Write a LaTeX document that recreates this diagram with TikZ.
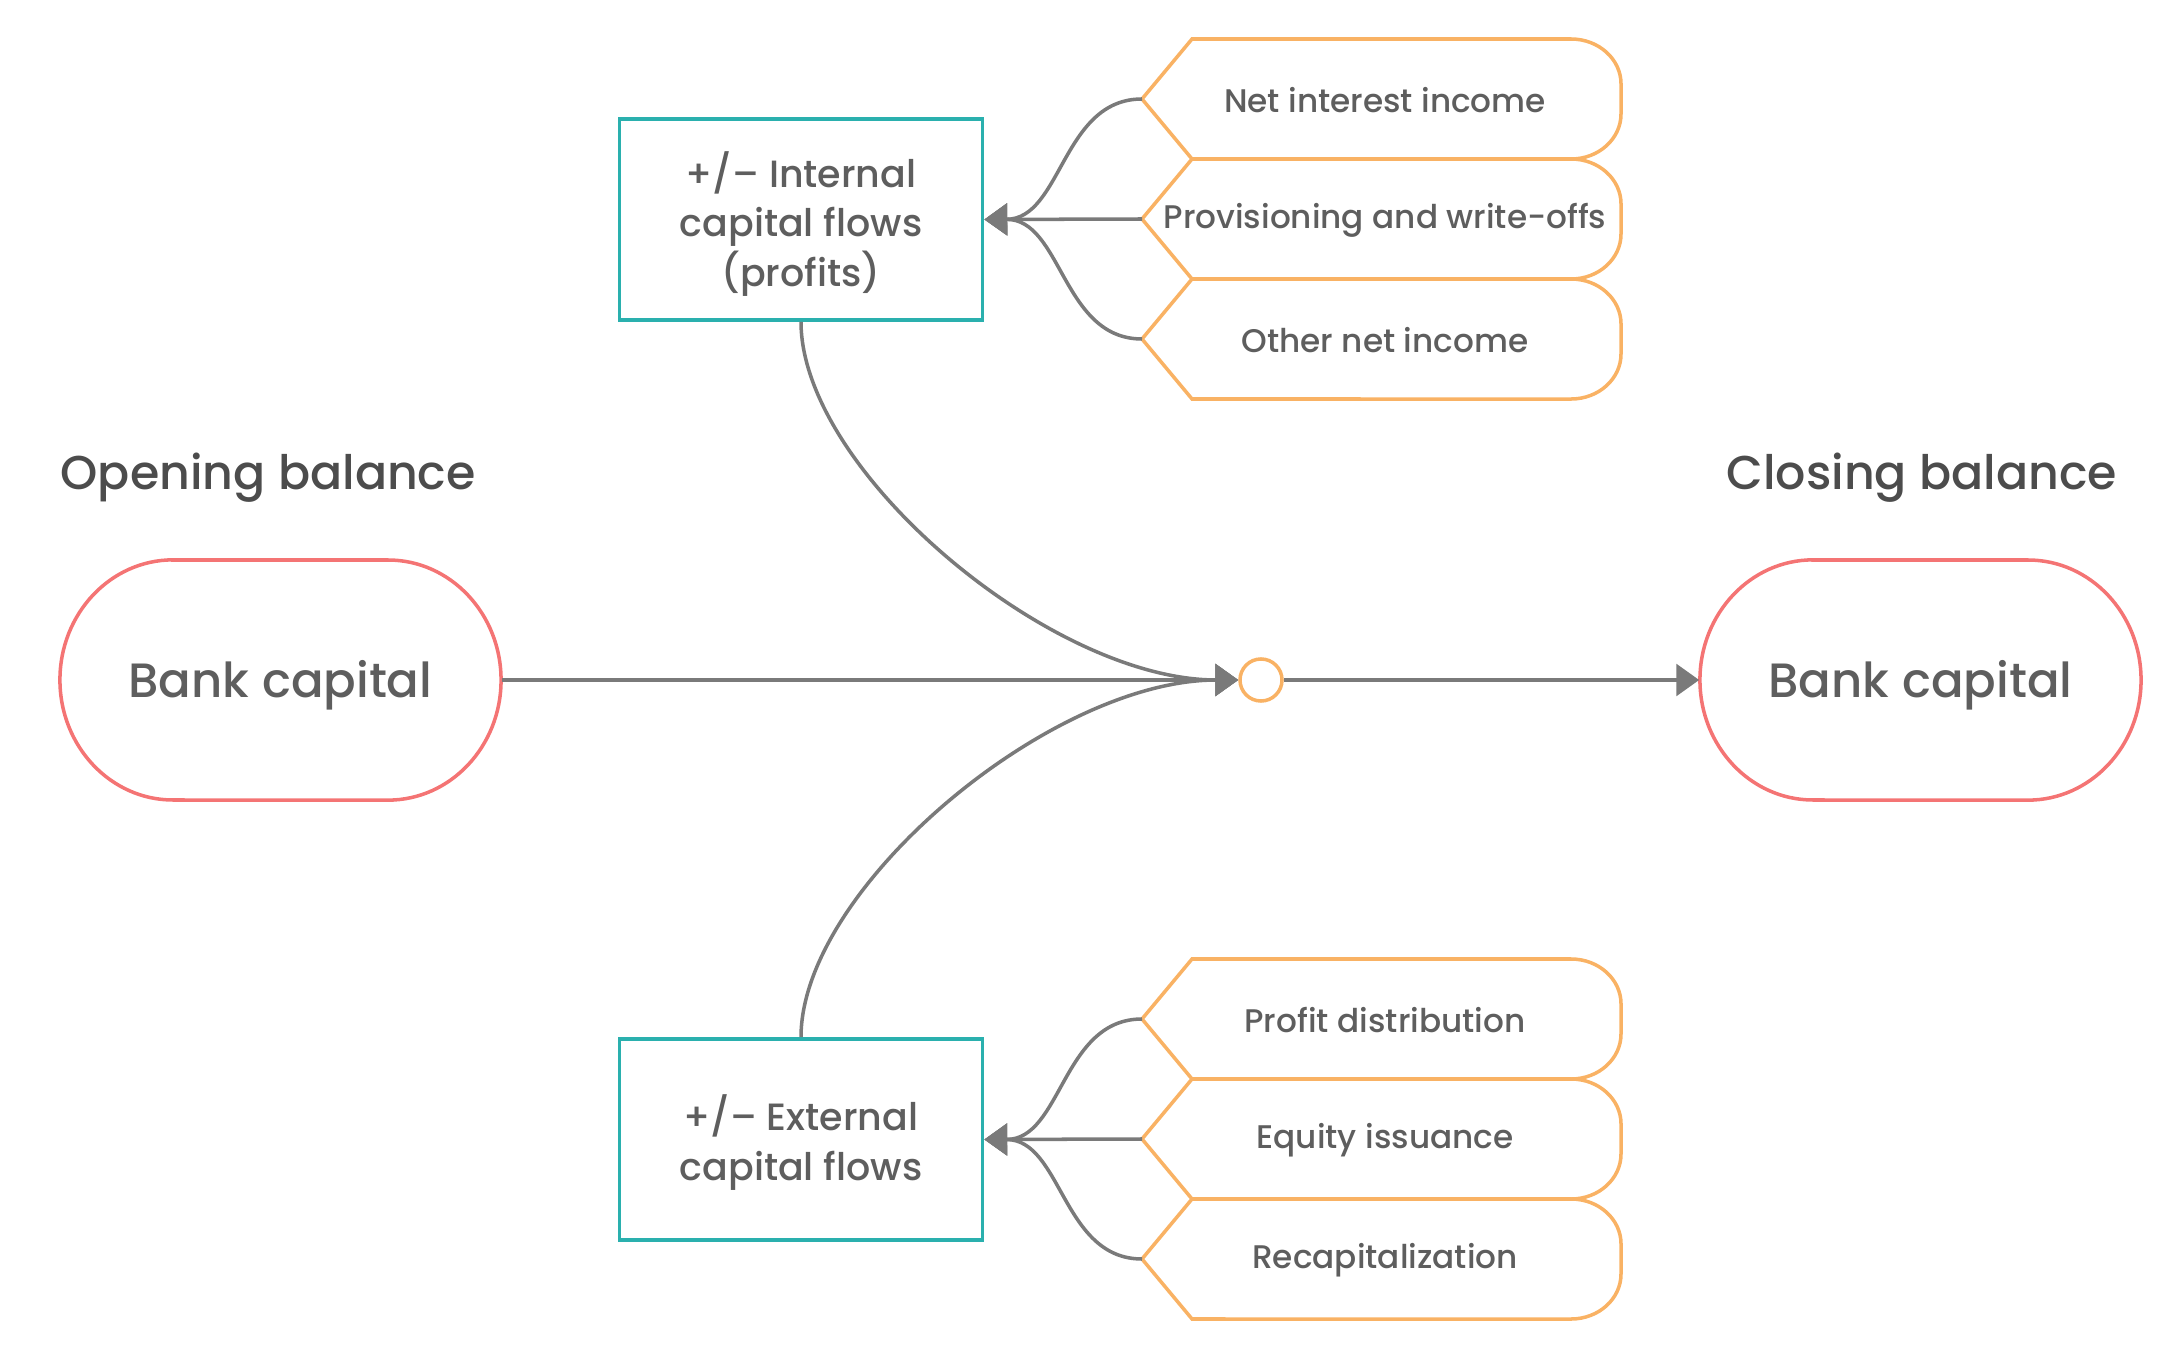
\documentclass[tikz,border=0pt]{standalone}
\usepackage{fontspec}
\setmainfont{Poppins Medium}
\usetikzlibrary{arrows.meta}
\definecolor{boxteal}{HTML}{2AB0AE}
\definecolor{tagorange}{HTML}{F9B264}
\definecolor{capred}{HTML}{F47474}
\definecolor{linegray}{HTML}{7A7A7A}
\definecolor{txtgray}{HTML}{5E5E5E}
\definecolor{headgray}{HTML}{4C4C4C}
\begin{document}
\begin{tikzpicture}[x=0.01cm,y=-0.01cm,
  flow/.style={draw=linegray, line width=1pt, -{Triangle[length=6.5pt,width=9pt]}},
  fbox/.style={draw=boxteal, line width=1pt, minimum width=3.63cm, minimum height=2.01cm, inner sep=0pt},
  boxtext/.style={align=center, inner sep=0pt, text=txtgray, font=\fontsize{10.8}{14.2}\selectfont},
  tagshape/.style={draw=tagorange, line width=1pt},
  tagtext/.style={text=txtgray, font=\fontsize{9.3}{10}\selectfont, inner sep=0pt},
  stadshape/.style={draw=capred, line width=1pt},
  stadnode/.style={minimum width=4.41cm, minimum height=2.4cm, inner sep=0pt},
  stadtext/.style={text=txtgray, inner sep=0pt, anchor=base, font=\fontsize{13.7}{15}\selectfont},
  head/.style={text=headgray, inner sep=0pt, font=\fontsize{13.5}{15}\selectfont}]
\useasboundingbox (0,0) rectangle (2181,1361);

% headings
\node[head, anchor=base west] (hopen) at (60,490) {Opening balance};
\node[head, anchor=base west] (hclose) at (1726,490) {Closing balance};

% stadiums
\draw[stadshape] (173,560) -- (388,560) arc[start angle=90, end angle=-90, x radius=1.13cm, y radius=1.2cm] -- (173,800) arc[start angle=-90, end angle=-270, x radius=1.13cm, y radius=1.2cm] -- cycle;
\node[stadnode] (open) at (280.5,680) {};
\node[stadtext] (opentxt) at (280.5,697) {Bank capital};
\draw[stadshape] (1813,560) -- (2028,560) arc[start angle=90, end angle=-90, x radius=1.13cm, y radius=1.2cm] -- (1813,800) arc[start angle=-90, end angle=-270, x radius=1.13cm, y radius=1.2cm] -- cycle;
\node[stadnode] (close) at (1920.5,680) {};
\node[stadtext] (closetxt) at (1920.5,697) {Bank capital};

% sum circle
\node[circle, draw=tagorange, line width=1pt, minimum size=0.42cm, inner sep=0pt] (sum) at (1261,680) {};

% boxes
\node[fbox] (int) at (801,219.5) {};
\node[boxtext] (inttxt) at (801,224) {+/– Internal\\capital flows\\(profits)};
\node[fbox] (ext) at (801,1139.5) {};
\node[boxtext] (exttxt) at (801,1143) {+/– External\\capital flows};

% tags
\foreach \cy/\nm/\txt in {99/a/Net interest income, 219/b/Provisioning and write-offs, 339/c/Other net income, 1019/d/Profit distribution, 1139/e/Equity issuance, 1259/f/Recapitalization} {
  \draw[tagshape] (1142,\cy) -- (1192,\cy-60) -- (1571,\cy-60) arc[start angle=90, end angle=0, x radius=0.5cm, y radius=0.45cm] -- (1621,\cy+15) arc[start angle=0, end angle=-90, x radius=0.5cm, y radius=0.45cm] -- (1192,\cy+60) -- cycle;
  \node[tagtext] (\nm) at (1385,\cy+1) {\txt};
  \coordinate (\nm tip) at (1142,\cy);
}

% connectors
\draw[flow] (atip) .. controls (1062,99) and (1062,219) .. (int.east);
\draw[flow] (btip) -- (int.east);
\draw[flow] (ctip) .. controls (1062,339) and (1062,219) .. (int.east);
\draw[flow] (dtip) .. controls (1062,1019) and (1062,1139.5) .. (ext.east);
\draw[flow] (etip) -- (ext.east);
\draw[flow] (ftip) .. controls (1062,1259) and (1062,1139.5) .. (ext.east);

\draw[flow] (int.south) .. controls (801,470) and (1050,680) .. (sum.west);
\draw[flow] (ext.north) .. controls (801,889) and (1050,680) .. (sum.west);
\draw[flow] (open.east) -- (sum.west);
\draw[flow] (sum.east) -- (close.west);
\end{tikzpicture}
\end{document}
